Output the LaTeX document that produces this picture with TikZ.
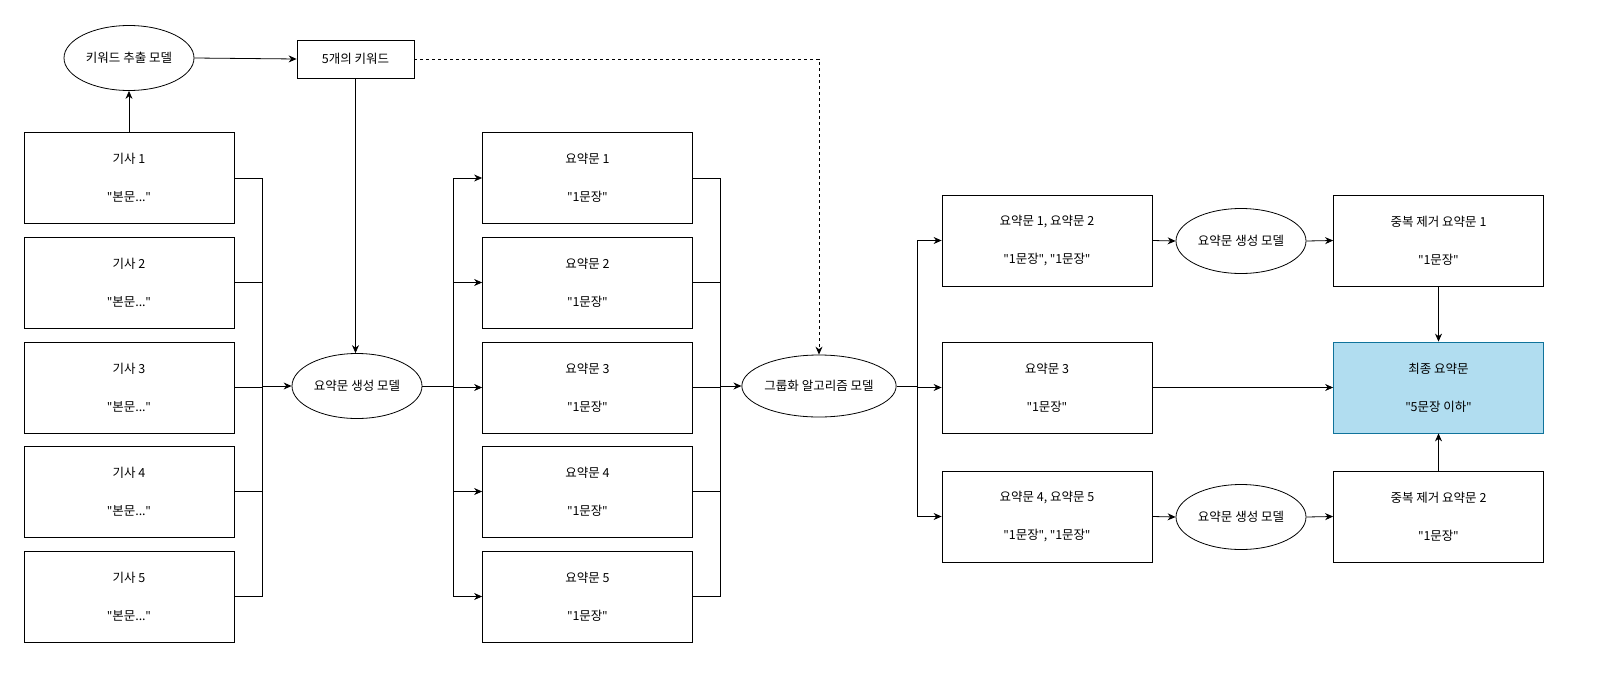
\documentclass[tikz,border=0pt]{standalone}
\usepackage{fontspec}
\setmainfont{Noto Sans CJK KR}
\newfontfamily\latinq{Noto Sans}
\newcommand{\qq}{{\latinq\symbol{34}}}
\usetikzlibrary{shapes.geometric,arrows.meta}
\begin{document}
\begin{tikzpicture}[x=1pt,y=-1pt,
  every node/.style={font=\fontsize{12.5}{14}\selectfont},
  box/.style={draw,line width=0.8pt,minimum width=210pt,minimum height=91pt,align=center,inner sep=0pt},
  ell/.style={draw,ellipse,line width=0.8pt,minimum width=130pt,minimum height=65pt,inner sep=0pt},
  ln/.style={line width=0.8pt},
  ar/.style={line width=0.8pt,-{Stealth[length=8pt,width=7pt]}}]
\useasboundingbox (0,0) rectangle (1616,696);
\newcommand{\tx}[2]{#1\\[24pt]#2}
% articles
\foreach \i/\y in {1/178,2/282.5,3/387.5,4/491.5,5/596.5}{
  \node[box] (a\i) at (129,\y) {\tx{기사 \i}{\qq 본문...\qq}};
  \node[box] (s\i) at (587.5,\y) {\tx{요약문 \i}{\qq 1문장\qq}};
}
\node[ell] (ke) at (129,58) {키워드 추출 모델};
\node[draw,line width=0.8pt,minimum width=117pt,minimum height=38pt,inner sep=0pt] (kw) at (355.5,59) {5개의 키워드};
\node[ell] (gen) at (357,386) {요약문 생성 모델};
\node[ell,minimum width=144pt,minimum height=62pt] (grp) at (819,386) {그룹화 알고리즘 모델};
\node[box] (r1) at (1047,240.5) {\tx{요약문 1, 요약문 2}{\qq 1문장\qq, \qq 1문장\qq}};
\node[box] (r2) at (1047,387.5) {\tx{요약문 3}{\qq 1문장\qq}};
\node[box] (r3) at (1047,516.5) {\tx{요약문 4, 요약문 5}{\qq 1문장\qq, \qq 1문장\qq}};
\node[ell] (g1) at (1241,241) {요약문 생성 모델};
\node[ell] (g2) at (1241,517) {요약문 생성 모델};
\node[box] (d1) at (1438.5,240.5) {\tx{중복 제거 요약문 1}{\qq 1문장\qq}};
\node[box,fill={rgb,255:red,177;green,221;blue,240},draw={rgb,255:red,16;green,115;blue,155}] (fin) at (1438.5,387.5) {\tx{최종 요약문}{\qq 5문장 이하\qq}};
\node[box] (d2) at (1438.5,516.5) {\tx{중복 제거 요약문 2}{\qq 1문장\qq}};
% top
\draw[ar] (a1.north) -- (ke.south);
\draw[ar] (ke.east) -- (kw.west);
\draw[ar] (kw.south) -- (kw.south |- gen.north);
\coordinate (dc) at (819,59);
\draw[ar,dashed] (kw.east) -- (dc) -- (grp.north);
% bus 1
\foreach \i in {1,...,5}{\draw[ln] (a\i.east) -- (262,0 |- a\i.east);}
\draw[ln] (262,178) -- (262,596.5);
\draw[ar] (262,386) -- (gen.west);
% bus 2
\draw[ln] (gen.east) -- (453,386);
\draw[ln] (453,178) -- (453,596.5);
\foreach \i in {1,...,5}{\draw[ar] (453,0 |- s\i.west) -- (s\i.west);}
% bus 3
\foreach \i in {1,...,5}{\draw[ln] (s\i.east) -- (720,0 |- s\i.east);}
\draw[ln] (720,178) -- (720,596.5);
\draw[ar] (720,386) -- (grp.west);
% bus 4
\draw[ln] (grp.east) -- (917,386);
\draw[ln] (917,240.5) -- (917,516.5);
\foreach \i in {1,2,3}{\draw[ar] (917,0 |- r\i.west) -- (r\i.west);}
\draw[ar] (r1.east) -- (g1.west);
\draw[ar] (g1.east) -- (d1.west);
\draw[ar] (r3.east) -- (g2.west);
\draw[ar] (g2.east) -- (d2.west);
\draw[ar] (r2.east) -- (fin.west);
\draw[ar] (d1.south) -- (fin.north);
\draw[ar] (d2.north) -- (fin.south);
\end{tikzpicture}
\end{document}
